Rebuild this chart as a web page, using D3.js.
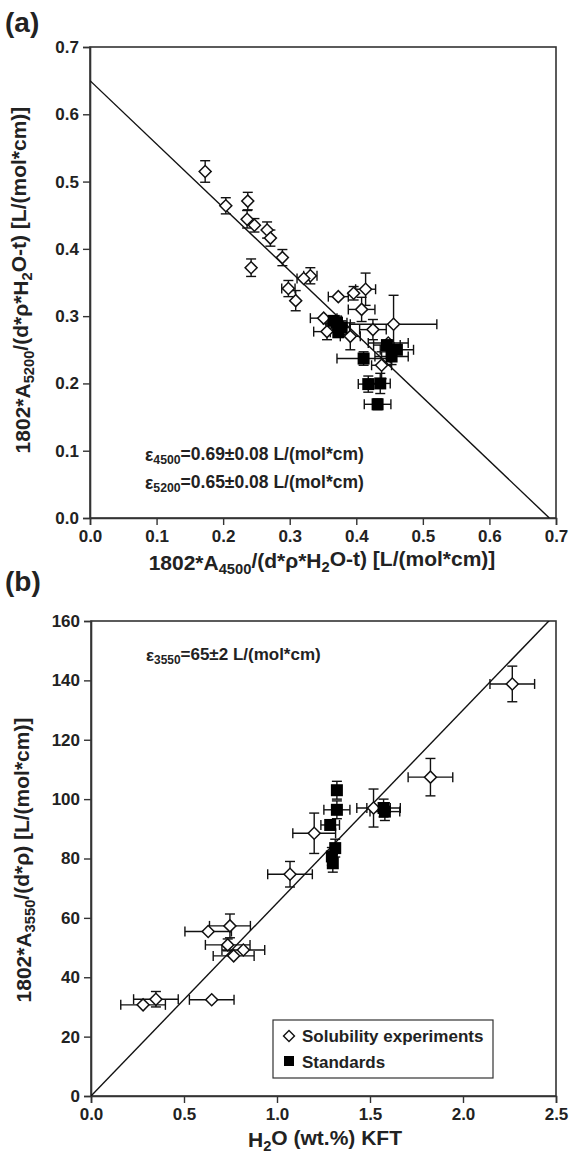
<!DOCTYPE html>
<html>
<head>
<meta charset="utf-8">
<script src="https://cdn.jsdelivr.net/npm/d3@7"></script>
<style>
  body { margin: 0; background: #fff; }
  svg text { font-family: "Liberation Sans", Arial, sans-serif; font-weight: bold; fill: #222; }
</style>
</head>
<body>
<svg id="chart" width="570" height="1155"></svg>
<script>
// panel (a): [x, y, xErr, yErr]
const aSolubility = [
  [0.173, 0.515, 0, 0.016], [0.204, 0.464, 0, 0.012], [0.237, 0.471, 0, 0.013],
  [0.236, 0.444, 0, 0.013], [0.247, 0.435, 0, 0.010], [0.266, 0.428, 0, 0.012],
  [0.271, 0.416, 0, 0.012], [0.242, 0.372, 0, 0.013], [0.289, 0.387, 0, 0.012],
  [0.331, 0.360, 0.010, 0.012], [0.321, 0.356, 0.010, 0], [0.298, 0.341, 0.010, 0.012],
  [0.309, 0.323, 0, 0.015], [0.373, 0.329, 0.015, 0], [0.396, 0.334, 0, 0.010],
  [0.414, 0.340, 0.015, 0.024], [0.408, 0.310, 0.020, 0.018], [0.356, 0.277, 0.020, 0.012],
  [0.391, 0.270, 0.015, 0.020], [0.425, 0.280, 0.020, 0.015], [0.456, 0.288, 0.065, 0.043],
  [0.438, 0.227, 0.015, 0.020], [0.351, 0.297, 0.020, 0], [0.448, 0.260, 0.030, 0]
];
const aStandards = [
  [0.371, 0.290, 0.015, 0.010], [0.366, 0.293, 0.012, 0], [0.378, 0.283, 0.012, 0.010],
  [0.373, 0.276, 0.012, 0], [0.411, 0.237, 0.040, 0.010], [0.446, 0.257, 0.020, 0],
  [0.461, 0.250, 0.025, 0], [0.453, 0.240, 0.025, 0.012], [0.418, 0.199, 0.015, 0.012],
  [0.436, 0.200, 0.015, 0.015], [0.432, 0.169, 0.020, 0.008]
];
const aFit = [[0, 0.65], [0.69, 0]];
const aTicks = [0, 0.1, 0.2, 0.3, 0.4, 0.5, 0.6, 0.7];

// panel (b): [x, y, xErr, yErr]
const bSolubility = [
  [0.280, 30.7, 0.120, 0], [0.349, 32.6, 0.120, 2.6], [0.649, 32.4, 0.120, 0],
  [0.630, 55.4, 0.125, 0], [0.747, 57.3, 0.110, 4.0], [0.735, 50.9, 0.120, 2.0],
  [0.767, 47.2, 0.110, 0], [0.819, 49.2, 0.115, 0], [1.070, 74.7, 0.120, 4.3],
  [1.200, 88.5, 0.115, 6.8], [1.519, 97.0, 0.090, 6.4], [1.825, 107.4, 0.120, 6.3],
  [2.265, 138.8, 0.120, 6.0]
];
const bStandards = [
  [1.322, 103.0, 0, 3.0], [1.322, 96.4, 0.070, 3.0], [1.286, 91.3, 0.050, 0],
  [1.313, 83.5, 0, 3.0], [1.295, 80.7, 0, 3.0], [1.300, 78.4, 0, 3.0],
  [1.573, 97.0, 0.090, 3.0], [1.580, 95.8, 0.080, 3.0]
];
const bFit = [[0, 0], [2.5, 162.5]];
const bXTicks = [0, 0.5, 1.0, 1.5, 2.0, 2.5];
const bYTicks = [0, 20, 40, 60, 80, 100, 120, 140, 160];

const svg = d3.select("#chart");

// text with subscripts: parts = [[text, isSub], ...]
function rich(sel, parts) {
  let down = false;
  parts.forEach(([t, sub]) => {
    const ts = sel.append("tspan").text(t);
    if (sub && !down) { ts.attr("dy", "0.28em").attr("font-size", "70%"); down = true; }
    else if (sub) { ts.attr("font-size", "70%"); }
    else if (down) { ts.attr("dy", "-0.28em"); down = false; }
  });
  return sel;
}

function panel(opts) {
  const { x0, x1, y0, y1, xDomain, yDomain, xTicks, yTicks, xFmt, yFmt } = opts;
  const x = d3.scaleLinear().domain(xDomain).range([x0, x1]);
  const y = d3.scaleLinear().domain(yDomain).range([y1, y0]);
  const g = svg.append("g");

  const clipId = "clip" + opts.id;
  svg.append("clipPath").attr("id", clipId)
    .append("rect").attr("x", x0).attr("y", y0).attr("width", x1 - x0).attr("height", y1 - y0);

  // frame
  g.append("rect").attr("x", x0).attr("y", y0).attr("width", x1 - x0).attr("height", y1 - y0)
    .attr("fill", "none").attr("stroke", "#333").attr("stroke-width", 1.6);

  const xAxis = g.append("g").attr("transform", `translate(0,${y1})`)
    .call(d3.axisBottom(x).tickValues(xTicks).tickFormat(xFmt).tickSize(7).tickPadding(5));
  const yAxis = g.append("g").attr("transform", `translate(${x0},0)`)
    .call(d3.axisLeft(y).tickValues(yTicks).tickFormat(yFmt).tickSize(7).tickPadding(4));
  [xAxis, yAxis].forEach(a => {
    a.select(".domain").attr("stroke", "#333").attr("stroke-width", 1.6);
    a.selectAll(".tick line").attr("stroke", "#333").attr("stroke-width", 1.4);
    a.selectAll(".tick text").attr("font-size", 17).attr("fill", "#222")
      .attr("font-family", "Liberation Sans, Arial, sans-serif").attr("font-weight", "bold");
  });

  // fit line
  g.append("line").attr("clip-path", `url(#${clipId})`)
    .attr("x1", x(opts.fit[0][0])).attr("y1", y(opts.fit[0][1]))
    .attr("x2", x(opts.fit[1][0])).attr("y2", y(opts.fit[1][1]))
    .attr("stroke", "#111").attr("stroke-width", 1.4);

  const cap = 5;
  function errorBars(data) {
    const eg = g.append("g").attr("stroke", "#111").attr("stroke-width", 1.4);
    data.forEach(([dx, dy, ex, ey]) => {
      if (ex > 0) {
        eg.append("line").attr("x1", x(dx - ex)).attr("x2", x(dx + ex)).attr("y1", y(dy)).attr("y2", y(dy));
        [dx - ex, dx + ex].forEach(v => eg.append("line")
          .attr("x1", x(v)).attr("x2", x(v)).attr("y1", y(dy) - cap).attr("y2", y(dy) + cap));
      }
      if (ey > 0) {
        eg.append("line").attr("x1", x(dx)).attr("x2", x(dx)).attr("y1", y(dy - ey)).attr("y2", y(dy + ey));
        [dy - ey, dy + ey].forEach(v => eg.append("line")
          .attr("x1", x(dx) - cap).attr("x2", x(dx) + cap).attr("y1", y(v)).attr("y2", y(v)));
      }
    });
  }
  errorBars(opts.sol);
  errorBars(opts.std);

  const diamond = d3.symbol().type(d3.symbolSquare).size(72);
  g.append("g").selectAll("path").data(opts.sol).join("path")
    .attr("d", diamond)
    .attr("transform", d => `translate(${x(d[0])},${y(d[1])}) rotate(45)`)
    .attr("fill", "#fff").attr("stroke", "#111").attr("stroke-width", 1.5);

  g.append("g").selectAll("rect").data(opts.std).join("rect")
    .attr("x", d => x(d[0]) - 6).attr("y", d => y(d[1]) - 6)
    .attr("width", 12).attr("height", 12).attr("fill", "#000");

  return { x, y, g };
}

// ---- panel (a)
const pa = panel({
  id: "a", x0: 90, x1: 556, y0: 47, y1: 518,
  xDomain: [0, 0.7], yDomain: [0, 0.7], xTicks: aTicks, yTicks: aTicks,
  xFmt: d3.format(".1f"), yFmt: d3.format(".1f"),
  sol: aSolubility, std: aStandards, fit: aFit
});

svg.append("text").attr("x", 5).attr("y", 32).attr("font-size", 28).text("(a)");

rich(svg.append("text").attr("x", 322).attr("y", 570).attr("font-size", 21)
  .attr("text-anchor", "middle"),
  [["1802*A"], ["4500", 1], ["/(d*ρ*H"], ["2", 1], ["O-t) [L/(mol*cm)]"]]);

rich(svg.append("text").attr("transform", "translate(30,280) rotate(-90)").attr("font-size", 21)
  .attr("text-anchor", "middle"),
  [["1802*A"], ["5200", 1], ["/(d*ρ*H"], ["2", 1], ["O-t) [L/(mol*cm)]"]]);

rich(svg.append("text").attr("x", 145).attr("y", 461).attr("font-size", 17.5),
  [["ε"], ["4500", 1], ["=0.69±0.08 L/(mol*cm)"]]);
rich(svg.append("text").attr("x", 145).attr("y", 489).attr("font-size", 17.5),
  [["ε"], ["5200", 1], ["=0.65±0.08 L/(mol*cm)"]]);

// ---- panel (b)
const pb = panel({
  id: "b", x0: 91, x1: 556, y0: 621, y1: 1096,
  xDomain: [0, 2.5], yDomain: [0, 160], xTicks: bXTicks, yTicks: bYTicks,
  xFmt: d3.format(".1f"), yFmt: d3.format("d"),
  sol: bSolubility, std: bStandards, fit: bFit
});

svg.append("text").attr("x", 5).attr("y", 591).attr("font-size", 28).text("(b)");

rich(svg.append("text").attr("x", 325).attr("y", 1147).attr("font-size", 21)
  .attr("text-anchor", "middle"),
  [["H"], ["2", 1], ["O (wt.%) KFT"]]);

rich(svg.append("text").attr("transform", "translate(31,860) rotate(-90)").attr("font-size", 21)
  .attr("text-anchor", "middle"),
  [["1802*A"], ["3550", 1], ["/(d*ρ) [L/(mol*cm)]"]]);

rich(svg.append("text").attr("x", 146).attr("y", 661).attr("font-size", 17),
  [["ε"], ["3550", 1], ["=65±2 L/(mol*cm)"]]);

// legend
const lg = svg.append("g").attr("transform", "translate(273,1020)");
lg.append("rect").attr("width", 220).attr("height", 58)
  .attr("fill", "#fff").attr("stroke", "#333").attr("stroke-width", 1.2);
lg.append("path").attr("d", d3.symbol().type(d3.symbolSquare).size(60))
  .attr("transform", "translate(16,16) rotate(45)")
  .attr("fill", "#fff").attr("stroke", "#111").attr("stroke-width", 1.4);
lg.append("rect").attr("x", 11).attr("y", 36).attr("width", 10).attr("height", 10).attr("fill", "#000");
lg.append("text").attr("x", 29).attr("y", 22).attr("font-size", 17).text("Solubility experiments");
lg.append("text").attr("x", 29).attr("y", 48).attr("font-size", 17).text("Standards");
</script>
</body>
</html>
